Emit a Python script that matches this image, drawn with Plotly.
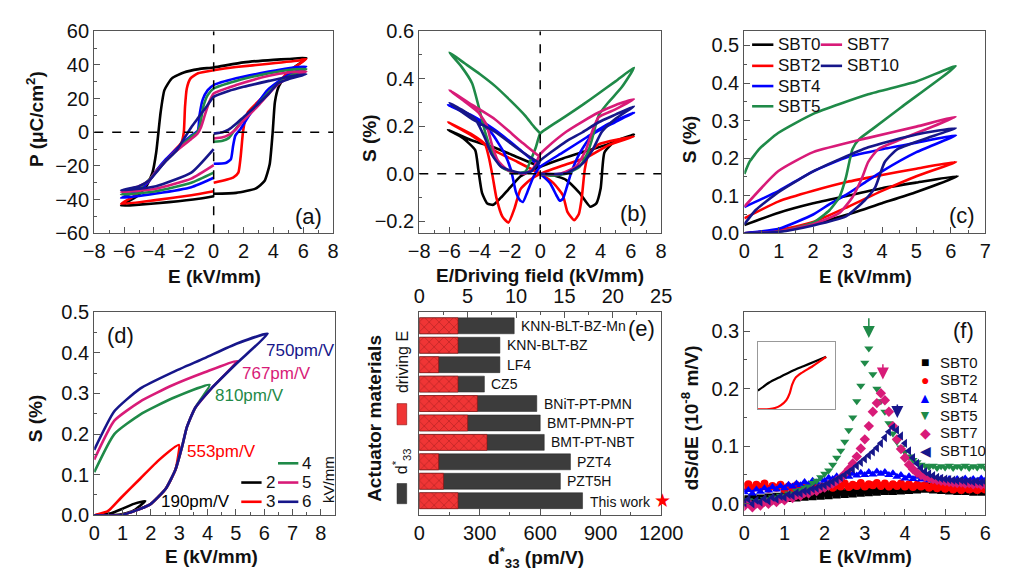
import plotly.graph_objects as go

FONT = "Liberation Sans, Arial, sans-serif"
C_SBT0 = '#000000'
C_SBT2 = '#ff0000'
C_SBT4 = '#0000ff'
C_SBT5 = '#1f8a48'
C_SBT7 = '#d81b78'
C_SBT10 = '#16168a'
FRAME = '#555555'

# ---------------- (a) P-E loops ----------------
a_SBT0_E = [0, 1.5, 2.8, 3.4, 3.75, 3.95, 4.1, 4.35, 5.0, 6.2, 5, 4, 2, 0, -1, -2, -2.8, -3.3, -3.55, -3.7, -3.85, -4.1, -4.5, -5.2, -6.2, -5, -3, -1, 0]
a_SBT0_P = [-36.5, -36, -33.5, -29, -19, 0, 18, 27, 36, 44, 43.5, 43, 41.5, 38.5, 37.5, 35.5, 32, 25, 12, 0, -12, -24, -32, -38.5, -43.5, -43, -41.5, -39.5, -38]
a_SBT2_E = [0, 1.3, 1.65, 1.8, 1.96, 2.1, 2.3, 3.25, 4.3, 5.0, 6.2, 5.8, 3.7, 1.5, 0, -1.05, -1.55, -1.8, -1.92, -2.0, -2.15, -2.8, -3.85, -4.5, -5.35, -6.2, -3.9, -1.5, 0]
a_SBT2_P = [-30, -27, -24, -15, 0, 7, 12, 20.5, 29, 36, 43.5, 42.8, 40.7, 38.7, 36.8, 35, 32, 26, 15, 0, -6, -12.5, -23, -30.5, -38, -42.5, -40.3, -37.4, -35]
a_SBT4_E = [0, 0.8, 1.15, 1.3, 1.45, 1.8, 2.3, 3, 3.6, 4.3, 5, 6.2, 5, 3.7, 1.5, 0, -0.4, -0.73, -0.95, -1.06, -1.5, -2.5, -3.2, -3.86, -4.3, -4.93, -6.2, -3.86, -1.5, 0]
a_SBT4_P = [-18.7, -18.3, -16, -8, -2, 2, 9, 18, 25, 30, 34, 39, 38, 36, 32, 28, 25, 19.5, 10, 1, -2, -10, -16, -23, -28.7, -34, -39, -36.4, -32.6, -27]
a_SBT5_E = [0, 0.6, 1.0, 1.3, 2, 3, 3.7, 4.3, 5, 6.2, 5, 3.7, 1.5, 0, -0.4, -0.7, -0.9, -1.1, -1.5, -2.5, -3.2, -3.86, -4.3, -5, -6.2, -3.86, -1.5, 0]
a_SBT5_P = [-5.6, -5, -3.5, 0, 8, 17, 24, 29, 33, 37.5, 37, 35, 30.5, 26, 22, 15, 5, 0, -2.5, -11, -17, -23.5, -28, -33, -37, -35, -30, -24]
a_SBT7_E = [0, 0.6, 1.0, 1.4, 2, 3, 3.7, 4.3, 5, 6.2, 5, 3.7, 1.5, 0, -0.3, -0.6, -0.85, -1.1, -1.5, -2.5, -3.2, -3.86, -4.3, -5, -6.2, -3.86, -1.5, 0]
a_SBT7_P = [-3.7, -3, -1.5, 1, 7, 16, 23, 28.5, 32, 36, 35.5, 33.5, 28, 23, 18, 10, 3, -1, -4, -11, -17, -23.5, -28.5, -32, -35.5, -33.5, -27.5, -19.5]
a_SBT10_E = [0, 0.6, 1.0, 1.5, 2, 3, 3.7, 4.3, 5, 6.2, 5, 3.7, 2, 1, 0, -0.5, -1.0, -1.5, -2, -2.5, -3.2, -3.86, -4.3, -5, -6.2, -3.86, -1.5, 0]
a_SBT10_P = [-0.8, 0, 1.5, 5, 9, 17, 23, 29, 31.5, 34.5, 33, 30.5, 27, 24.5, 21, 15, 9, 3, -4, -11, -17, -24, -28.5, -32, -34.5, -32, -24, -10]

# ---------------- (b) bipolar S-E ----------------
b_SBT0_E = [0, 0.8, 1.7, 2.6, 3.3, 3.7, 4.0, 4.25, 4.9, 6.2, 4.5, 3.1, 1.5, 0, -0.7, -1.3, -2.1, -2.6, -3.1, -3.5, -3.85, -4.1, -4.3, -5.1, -6.1, -4.5, -3, -1.5, 0]
b_SBT0_S = [0, -0.005, -0.025, -0.08, -0.138, -0.125, -0.06, 0.09, 0.135, 0.165, 0.125, 0.097, 0.065, 0.03, 0.01, -0.01, -0.065, -0.1, -0.13, -0.125, -0.08, 0.02, 0.1, 0.15, 0.185, 0.14, 0.11, 0.07, 0.03]
b_SBT2_E = [0, 0.86, 1.5, 1.8, 2.25, 2.55, 2.75, 2.95, 3.2, 3.86, 6.2, 4.5, 3.1, 1.5, 0, -0.64, -1.3, -1.7, -2.1, -2.5, -2.9, -3.15, -3.4, -3.65, -4.5, -6.1, -4.5, -3, -1.5, 0]
b_SBT2_S = [0, -0.038, -0.09, -0.16, -0.195, -0.17, -0.1, 0.02, 0.083, 0.124, 0.157, 0.12, 0.07, 0.035, 0, -0.024, -0.064, -0.145, -0.205, -0.18, -0.1, -0.01, 0.07, 0.124, 0.165, 0.217, 0.16, 0.097, 0.05, 0]
b_SBT4_E = [0, 0.64, 1.07, 1.29, 1.5, 1.72, 2.04, 2.58, 3.43, 4.94, 6.2, 4.5, 3.1, 1.5, 0, -0.43, -0.86, -1.14, -1.35, -1.6, -1.93, -2.4, -3.2, -4.3, -6.1, -4.5, -3, -1.5, 0]
b_SBT4_S = [0, -0.038, -0.09, -0.113, -0.105, -0.064, 0.003, 0.083, 0.164, 0.217, 0.258, 0.21, 0.155, 0.09, 0.03, -0.01, -0.078, -0.118, -0.11, -0.078, 0.016, 0.09, 0.17, 0.235, 0.29, 0.245, 0.185, 0.11, 0.03]
b_SBT5_E = [0, 0.8, 1.7, 2.6, 3.1, 3.4, 3.65, 3.9, 4.5, 5.4, 6.2, 5, 3.86, 2.8, 1.72, 0.9, 0.43, 0, -0.3, -0.64, -0.97, -1.7, -2.58, -3.22, -3.65, -4.08, -4.5, -5.2, -6.0, -5, -4, -3, -2, -1, -0.43, 0]
b_SBT5_S = [0, -0.008, 0.0, 0.03, 0.083, 0.14, 0.2, 0.25, 0.3, 0.365, 0.446, 0.39, 0.338, 0.29, 0.244, 0.21, 0.19, 0.17, 0.11, 0.056, 0.01, 0.003, 0.03, 0.097, 0.177, 0.285, 0.38, 0.45, 0.51, 0.465, 0.42, 0.37, 0.31, 0.245, 0.2, 0.17]
b_SBT7_E = [0, 1.29, 2.36, 3.0, 3.43, 3.86, 4.94, 6.2, 5, 3.86, 2.8, 1.72, 0.43, 0, -0.5, -1.07, -2.15, -2.8, -3.2, -3.54, -4.08, -5.15, -6.0, -4.5, -3, -1.3, 0]
b_SBT7_S = [0, 0, 0.03, 0.097, 0.177, 0.238, 0.27, 0.314, 0.29, 0.258, 0.22, 0.177, 0.11, 0.083, 0.02, 0, 0.016, 0.056, 0.124, 0.204, 0.258, 0.312, 0.352, 0.29, 0.23, 0.137, 0.07]
b_SBT10_E = [0, 1.72, 2.8, 3.43, 4.08, 4.94, 6.2, 5, 3.86, 2.8, 1.72, 0.8, 0, -0.6, -1.3, -2.58, -3.22, -3.65, -4.3, -5.2, -6.0, -4.5, -3, -1.3, 0]
b_SBT10_S = [0, 0.003, 0.043, 0.097, 0.177, 0.23, 0.284, 0.25, 0.217, 0.175, 0.137, 0.095, 0.056, 0.01, 0.003, 0.03, 0.083, 0.15, 0.23, 0.27, 0.298, 0.23, 0.177, 0.097, 0.043]

# ---------------- (c) unipolar S-E ----------------
c_SBT0_E = [0, 1, 2, 3, 4, 5, 6.2, 5, 4, 3, 2, 1, 0]
c_SBT0_S = [0, 0.008, 0.025, 0.05, 0.08, 0.11, 0.152, 0.135, 0.12, 0.1, 0.08, 0.055, 0.022]
c_SBT2_E = [0, 1, 2, 3, 4, 5, 6.15, 5, 4, 3, 2, 1, 0]
c_SBT2_S = [0, 0.008, 0.03, 0.07, 0.113, 0.152, 0.19, 0.172, 0.155, 0.137, 0.113, 0.085, 0.04]
c_SBT4_E = [0, 1, 2, 2.5, 3, 3.5, 4, 5, 6.15, 5, 4, 3, 2, 1, 0]
c_SBT4_S = [0, 0.012, 0.05, 0.079, 0.105, 0.135, 0.165, 0.216, 0.261, 0.241, 0.224, 0.203, 0.165, 0.113, 0.07]
c_SBT5_E = [0, 1, 2, 2.48, 2.76, 2.95, 3.05, 3.14, 3.33, 3.7, 4.55, 6.14, 5.0, 3.6, 2.0, 0.98, 0.45, 0.15, 0]
c_SBT5_S = [0, 0.004, 0.028, 0.062, 0.096, 0.148, 0.19, 0.224, 0.25, 0.276, 0.335, 0.445, 0.404, 0.37, 0.318, 0.267, 0.226, 0.19, 0.158]
c_SBT7_E = [0, 1, 2, 2.76, 3.14, 3.42, 3.6, 3.89, 4.55, 6.14, 5.0, 3.6, 2.0, 0.98, 0]
c_SBT7_S = [0, 0.005, 0.024, 0.054, 0.096, 0.148, 0.19, 0.224, 0.25, 0.31, 0.284, 0.254, 0.216, 0.165, 0.071]
c_SBT10_E = [0, 1, 2, 2.95, 3.5, 3.8, 4.08, 4.45, 5.2, 6.14, 5.0, 3.6, 2.0, 0.98, 0.33, 0]
c_SBT10_S = [0, 0.004, 0.021, 0.045, 0.088, 0.122, 0.19, 0.224, 0.25, 0.28, 0.263, 0.229, 0.165, 0.109, 0.062, 0.024]

# ---------------- (d) S-E at different fields ----------------
d_2_E = [0, 0.6, 1.0, 1.4, 1.8, 1.4, 1.0, 0.6, 0]
d_2_S = [0, 0, 0.003, 0.012, 0.035, 0.028, 0.016, 0.005, 0]
d_3_E = [0, 0.93, 1.96, 2.53, 2.87, 2.99, 2.3, 1.62, 0.93, 0.48, 0]
d_3_S = [0, 0, 0.026, 0.066, 0.113, 0.173, 0.137, 0.09, 0.042, 0.01, 0]
d_4_E = [0, 0.93, 1.96, 2.53, 2.87, 3.1, 3.27, 3.56, 4.07, 2.76, 1.62, 0.71, 0]
d_4_S = [0, 0, 0.026, 0.066, 0.113, 0.169, 0.217, 0.264, 0.321, 0.288, 0.248, 0.2, 0.106]
d_5_E = [0, 0.93, 1.96, 2.53, 2.87, 3.1, 3.27, 3.56, 4.13, 5.04, 3.9, 2.76, 1.62, 0.71, 0]
d_5_S = [0, 0, 0.026, 0.066, 0.113, 0.169, 0.217, 0.264, 0.312, 0.38, 0.352, 0.32, 0.28, 0.233, 0.137]
d_6_E = [0, 0.93, 1.96, 2.53, 2.87, 3.1, 3.27, 3.56, 4.13, 5.04, 6.12, 5.04, 3.9, 2.76, 1.62, 0.71, 0]
d_6_S = [0, 0, 0.026, 0.066, 0.113, 0.169, 0.217, 0.264, 0.312, 0.375, 0.447, 0.423, 0.387, 0.352, 0.312, 0.256, 0.161]
d_labels = ['190pm/V', '553pm/V', '810pm/V', '767pm/V', '750pm/V']
d_label_E = [2.3, 3.21, 4.18, 5.15, 6.0]
d_label_S = [0.034, 0.157, 0.294, 0.348, 0.405]

# ---------------- (e) actuator materials ----------------
e_materials = ['KNN-BLT-BZ-Mn', 'KNN-BLT-BZ', 'LF4', 'CZ5', 'BNiT-PT-PMN', 'BMT-PMN-PT', 'BMT-PT-NBT', 'PZT4', 'PZT5H', 'This work']
e_d33 = [471, 400, 400, 323, 583, 600, 620, 750, 700, 810]
e_field = [4, 4, 2, 4, 6, 5, 7, 2, 2.5, 4]

# ---------------- (f) dS/dE ----------------
f_E = [0.0, 0.1, 0.2, 0.3, 0.4, 0.5, 0.6, 0.7, 0.8, 0.9, 1.0, 1.1, 1.2, 1.3, 1.4, 1.5, 1.6, 1.7, 1.8, 1.9,
       2.0, 2.1, 2.2, 2.3, 2.4, 2.5, 2.6, 2.7, 2.8, 2.9, 3.0, 3.1, 3.2, 3.3, 3.4, 3.5, 3.6, 3.7, 3.8, 3.9,
       4.0, 4.1, 4.2, 4.3, 4.4, 4.5, 4.6, 4.7, 4.8, 4.9, 5.0, 5.1, 5.2, 5.3, 5.4, 5.5, 5.6, 5.7, 5.8, 5.9, 6.0]
f_SBT0 = [0.008, 0.004, 0.010, 0.006, 0.009, 0.005, 0.011, 0.008, 0.012, 0.009, 0.013, 0.010, 0.014, 0.011, 0.016, 0.012, 0.016, 0.013, 0.018, 0.014,
          0.019, 0.015, 0.020, 0.016, 0.021, 0.017, 0.021, 0.018, 0.023, 0.019, 0.023, 0.020, 0.024, 0.021, 0.025, 0.022, 0.026, 0.022, 0.027, 0.023,
          0.028, 0.024, 0.029, 0.025, 0.030, 0.026, 0.030, 0.025, 0.029, 0.024, 0.028, 0.023, 0.027, 0.022, 0.027, 0.022, 0.026, 0.021, 0.026, 0.021, 0.025]
f_SBT2 = [0.030, 0.034, 0.027, 0.033, 0.029, 0.035, 0.026, 0.031, 0.028, 0.033, 0.025, 0.030, 0.027, 0.032, 0.026, 0.031, 0.028, 0.033, 0.027, 0.030,
          0.029, 0.034, 0.028, 0.032, 0.030, 0.035, 0.029, 0.033, 0.031, 0.036, 0.030, 0.034, 0.032, 0.036, 0.031, 0.035, 0.030, 0.034, 0.031, 0.035,
          0.030, 0.034, 0.029, 0.033, 0.030, 0.032, 0.028, 0.031, 0.027, 0.030, 0.026, 0.029, 0.025, 0.028, 0.024, 0.028, 0.025, 0.027, 0.024, 0.027, 0.025]
f_SBT4 = [0.020, 0.024, 0.018, 0.025, 0.021, 0.027, 0.023, 0.029, 0.025, 0.031, 0.027, 0.033, 0.030, 0.035, 0.032, 0.038, 0.034, 0.040, 0.037, 0.042,
          0.040, 0.045, 0.043, 0.048, 0.045, 0.050, 0.047, 0.052, 0.049, 0.054, 0.050, 0.055, 0.051, 0.056, 0.052, 0.055, 0.050, 0.053, 0.047, 0.050,
          0.044, 0.048, 0.043, 0.047, 0.042, 0.046, 0.041, 0.045, 0.040, 0.044, 0.040, 0.043, 0.039, 0.043, 0.040, 0.044, 0.039, 0.043, 0.040, 0.044, 0.041]
f_SBT5 = [0.000, 0.006, -0.003, 0.005, 0.002, 0.008, 0.004, 0.011, 0.008, 0.014, 0.012, 0.018, 0.016, 0.022, 0.024, 0.028, 0.030, 0.036, 0.040, 0.046,
          0.052, 0.058, 0.068, 0.080, 0.092, 0.108, 0.128, 0.150, 0.178, 0.205, 0.245, 0.270, 0.225, 0.200, 0.178, 0.160, 0.140, 0.122, 0.108, 0.098,
          0.090, 0.082, 0.076, 0.072, 0.068, 0.066, 0.064, 0.066, 0.062, 0.065, 0.063, 0.066, 0.062, 0.065, 0.063, 0.066, 0.062, 0.065, 0.063, 0.066, 0.062]
f_SBT7 = [-0.004, 0.002, -0.006, 0.001, -0.003, 0.004, 0.000, 0.006, 0.003, 0.009, 0.006, 0.012, 0.010, 0.015, 0.014, 0.019, 0.018, 0.023, 0.022, 0.027,
          0.028, 0.032, 0.035, 0.040, 0.045, 0.052, 0.060, 0.070, 0.082, 0.096, 0.112, 0.135, 0.160, 0.175, 0.192, 0.180, 0.160, 0.135, 0.112, 0.095,
          0.080, 0.068, 0.060, 0.054, 0.050, 0.047, 0.045, 0.043, 0.041, 0.040, 0.039, 0.038, 0.037, 0.036, 0.037, 0.035, 0.036, 0.034, 0.035, 0.033, 0.034]
f_SBT10 = [0.002, 0.008, 0.000, 0.006, 0.003, 0.009, 0.005, 0.011, 0.008, 0.013, 0.011, 0.016, 0.014, 0.019, 0.018, 0.022, 0.022, 0.026, 0.027, 0.030,
           0.032, 0.035, 0.038, 0.042, 0.046, 0.050, 0.055, 0.060, 0.066, 0.072, 0.078, 0.084, 0.090, 0.097, 0.105, 0.115, 0.125, 0.133, 0.128, 0.118,
           0.105, 0.092, 0.080, 0.070, 0.062, 0.056, 0.052, 0.049, 0.046, 0.044, 0.043, 0.042, 0.041, 0.040, 0.041, 0.039, 0.040, 0.038, 0.039, 0.037, 0.038]
f_arrow_E = [3.1, 3.45, 3.81]
f_arrow_head = [0.288, 0.216, 0.149]
f_arrow_tail = [0.325, 0.245, 0.175]
inset_up_E = [0, 1, 2, 3, 4, 5, 6]
inset_up_S = [0.16, 0.23, 0.28, 0.33, 0.37, 0.41, 0.45]
inset_lo_E = [0, 1, 1.5, 2, 2.5, 2.8, 3.0, 3.3, 3.8, 4.8, 6]
inset_lo_S = [0, 0.003, 0.012, 0.035, 0.08, 0.14, 0.21, 0.27, 0.31, 0.37, 0.45]

names = ['SBT0', 'SBT2', 'SBT4', 'SBT5', 'SBT7', 'SBT10']
colors = [C_SBT0, C_SBT2, C_SBT4, C_SBT5, C_SBT7, C_SBT10]
f_glyphs = ['■', '●', '▲', '▼', '◆', '◀']

fig = go.Figure()


def line_trace(x, y, color, xa, ya, width=2.6):
    return go.Scatter(x=x, y=y, mode='lines', xaxis=xa, yaxis=ya, showlegend=False,
                      line=dict(color=color, width=width, shape='spline', smoothing=0.5),
                      hoverinfo='skip')

a_data = [(a_SBT0_E, a_SBT0_P), (a_SBT2_E, a_SBT2_P), (a_SBT4_E, a_SBT4_P),
          (a_SBT5_E, a_SBT5_P), (a_SBT7_E, a_SBT7_P), (a_SBT10_E, a_SBT10_P)]
b_data = [(b_SBT0_E, b_SBT0_S), (b_SBT2_E, b_SBT2_S), (b_SBT4_E, b_SBT4_S),
          (b_SBT5_E, b_SBT5_S), (b_SBT7_E, b_SBT7_S), (b_SBT10_E, b_SBT10_S)]
c_data = [(c_SBT0_E, c_SBT0_S), (c_SBT2_E, c_SBT2_S), (c_SBT4_E, c_SBT4_S),
          (c_SBT5_E, c_SBT5_S), (c_SBT7_E, c_SBT7_S), (c_SBT10_E, c_SBT10_S)]
for (x, y), col in zip(a_data, colors):
    fig.add_trace(line_trace(x, y, col, 'x', 'y'))
for (x, y), col in zip(b_data, colors):
    fig.add_trace(line_trace(x, y, col, 'x2', 'y2'))
for (x, y), col in zip(c_data, colors):
    fig.add_trace(line_trace(x, y, col, 'x3', 'y3'))

d_data = [(d_2_E, d_2_S, C_SBT0), (d_3_E, d_3_S, C_SBT2), (d_4_E, d_4_S, C_SBT5),
          (d_5_E, d_5_S, C_SBT7), (d_6_E, d_6_S, C_SBT10)]
for x, y, col in d_data:
    fig.add_trace(line_trace(x, y, col, 'x4', 'y4'))

# (e) bars
fig.add_trace(go.Bar(y=e_materials, x=e_d33, orientation='h', xaxis='x5', yaxis='y5',
                     marker=dict(color='#3c3c3c', line=dict(color='#222', width=0.5)),
                     width=0.82, showlegend=False, hoverinfo='skip'))
fig.add_trace(go.Bar(y=e_materials, x=e_field, orientation='h', xaxis='x6', yaxis='y5',
                     marker=dict(color='#f03535', line=dict(color='#8a1010', width=0.6),
                                 pattern=dict(shape='x', fgcolor='#5a0a0a', size=7, solidity=0.15,
                                              fillmode='overlay')),
                     width=0.82, showlegend=False, hoverinfo='skip'))

# (f) scatter
f_series = [f_SBT0, f_SBT2, f_SBT4, f_SBT5, f_SBT7, f_SBT10]
f_symbols = ['square', 'circle', 'triangle-up', 'triangle-down', 'diamond', 'triangle-left']
for nm, ys, col, sym in zip(names, f_series, colors, f_symbols):
    fig.add_trace(go.Scatter(x=f_E, y=ys, mode='markers', name=nm, xaxis='x7', yaxis='y6',
                             marker=dict(symbol=sym, color=col, size=8, line=dict(width=0)),
                             hoverinfo='skip', showlegend=False))

# inset
fig.add_trace(line_trace(inset_up_E, inset_up_S, C_SBT0, 'x8', 'y7', width=2.2))
fig.add_trace(line_trace(inset_lo_E, inset_lo_S, C_SBT2, 'x8', 'y7', width=2.2))

TICKSIZE = 20


def axis(domain, rng, dtick, mdtick, anchor, fmt=None, **kw):
    d = dict(domain=domain, range=rng, dtick=dtick, tick0=0, anchor=anchor,
             showline=True, linecolor=FRAME, linewidth=1.2, mirror=True,
             ticks='inside', ticklen=6, tickwidth=1, tickcolor=FRAME,
             minor=dict(ticks='inside', ticklen=3, dtick=mdtick, tick0=0, tickcolor=FRAME, showgrid=False),
             showgrid=False, zeroline=False,
             tickfont=dict(size=TICKSIZE, family=FONT, color='#111'))
    if fmt:
        d['tickformat'] = fmt
    d.update(kw)
    return d

W, H = 1015.0, 584.0
def px(x0, x1):
    return [x0 / W, x1 / W]
def py(top, bottom):
    return [1 - bottom / H, 1 - top / H]

row1 = py(21, 231)
row2 = py(313, 524)

layout = dict(
    width=1015, height=584, margin=dict(l=0, r=0, t=0, b=0),
    paper_bgcolor='white', plot_bgcolor='white',
    font=dict(family=FONT, size=16, color='#111'),
    xaxis=axis(px(86, 333), [-8, 8], 2, 1, 'y'),
    yaxis=axis(row1, [-60, 60], 20, 10, 'x'),
    xaxis2=axis(px(422, 672), [-8, 8], 2, 1, 'y2'),
    yaxis2=axis(row1, [-0.25, 0.6], 0.2, 0.1, 'x2', '.1f'),
    xaxis3=axis(px(758, 1007), [0, 7], 1, 0.5, 'y3'),
    yaxis3=axis(row1, [0, 0.538], 0.1, 0.05, 'x3', '.1f'),
    xaxis4=axis(px(86, 335), [0, 8.5], 1, 0.5, 'y4'),
    yaxis4=axis(row2, [0, 0.5], 0.1, 0.05, 'x4', '.1f'),
    xaxis5=axis(px(422, 672), [0, 1200], 300, 150, 'y5', side='bottom', mirror=False),
    xaxis6=axis(px(422, 672), [0, 25], 5, 2.5, 'y5', side='top', overlaying='x5', mirror=False),
    yaxis5=dict(domain=row2, anchor='x5', type='category', range=[9.75, -0.7],
                showline=True, linecolor=FRAME, linewidth=1.2, mirror=True,
                ticks='', showticklabels=False, showgrid=False, zeroline=False),
    xaxis7=axis(px(758, 1007), [0, 6], 1, 0.5, 'y6'),
    yaxis6=axis(row2, [-0.02, 0.333], 0.1, 0.05, 'x7', '.1f'),
    xaxis8=dict(domain=px(772, 852), anchor='y7', range=[0, 6.8], showline=True, linecolor='#999',
                linewidth=1, mirror=True, ticks='', showticklabels=False, showgrid=False, zeroline=False),
    yaxis7=dict(domain=py(344, 414), anchor='x8', range=[0, 0.577], showline=True, linecolor='#999',
                linewidth=1, mirror=True, ticks='', showticklabels=False, showgrid=False, zeroline=False),
    showlegend=False,
)
fig.update_layout(**layout)

shapes = []
# dashed zero lines (a), (b)
shapes += [
    dict(type='line', xref='x', yref='y', x0=-8, x1=8, y0=0, y1=0, line=dict(color='black', width=1.5, dash='dash')),
    dict(type='line', xref='x', yref='y', x0=0, x1=0, y0=-60, y1=60, line=dict(color='black', width=1.5, dash='dash')),
    dict(type='line', xref='x2', yref='y2', x0=-8, x1=8, y0=0, y1=0, line=dict(color='black', width=1.5, dash='dash')),
    dict(type='line', xref='x2', yref='y2', x0=0, x1=0, y0=-0.25, y1=0.6, line=dict(color='black', width=1.5, dash='dash')),
]
annotations = []


def ann(text, x, y, size=16, angle=0, bold=False, xanchor='center', color='#111', **kw):
    d = dict(text=text, x=x, y=y, xref='paper', yref='paper', showarrow=False,
             xanchor=xanchor, yanchor='middle', textangle=angle,
             font=dict(size=size, family=FONT, color=color, weight='bold' if bold else 'normal'))
    d.update(kw)
    annotations.append(d)

# axis titles
ann('E (kV/mm)', 210 / W, 1 - 276 / H, 19, bold=True)
ann('P (μC/cm<sup>2</sup>)', 25 / W, 1 - 112 / H, 19, -90, True)
ann('E/Driving field (kV/mm)', 547 / W, 1 - 275 / H, 19, bold=True)
ann('S (%)', 370 / W, 1 - 132 / H, 19, -90, True)
ann('E (kV/mm)', 883 / W, 1 - 276 / H, 19, bold=True)
ann('S (%)', 702 / W, 1 - 133 / H, 19, -90, True)
ann('E (kV/mm)', 207 / W, 1 - 567 / H, 19, bold=True)
ann('S (%)', 25 / W, 1 - 423 / H, 19, -90, True)
ann('d<sup>*</sup><sub>33</sub> (pm/V)', 543 / W, 1 - 568 / H, 19, bold=True)
ann('Actuator materials', 375 / W, 1 - 423 / H, 19, -90, True)
ann('E (kV/mm)', 883 / W, 1 - 567 / H, 19, bold=True)
ann('dS/dE (10<sup>-8</sup> m/V)', 702 / W, 1 - 423 / H, 19, -90, True)

# panel labels
for lab, x, y in [('(a)', 308, 214), ('(b)', 643, 210), ('(c)', 983, 212),
                  ('(d)', 113, 337), ('(e)', 652, 330), ('(f)', 985, 332)]:
    ann(lab, x / W, 1 - y / H, 22)

# (c) legend
c_leg_pos = [(766, 35), (766, 57), (766, 78), (766, 99), (837, 35), (837, 57)]
for nm, col, (x0, yy) in zip(names, colors, c_leg_pos):
    shapes.append(dict(type='line', xref='paper', yref='paper', x0=x0 / W, x1=(x0 + 22) / W,
                       y0=1 - yy / H, y1=1 - yy / H, line=dict(color=col, width=2.6)))
    ann(nm, (x0 + 25) / W, 1 - yy / H, 17, xanchor='left')

# (d) legend
d_leg = [('2', C_SBT0, 238, 490), ('3', C_SBT2, 238, 510), ('4', C_SBT5, 276, 470),
         ('5', C_SBT7, 276, 490), ('6', C_SBT10, 276, 510)]
for t, col, x0, yy in d_leg:
    shapes.append(dict(type='line', xref='paper', yref='paper', x0=x0 / W, x1=(x0 + 21) / W,
                       y0=1 - yy / H, y1=1 - yy / H, line=dict(color=col, width=2.6)))
    ann(t, (x0 + 23) / W, 1 - yy / H, 17, xanchor='left')
ann('kV/mm', 328 / W, 1 - 487 / H, 15, -90)

# (d) value labels
d_label_colors = [C_SBT0, C_SBT2, C_SBT5, C_SBT7, C_SBT10]
for t, x, y, col in zip(d_labels, d_label_E, d_label_S, d_label_colors):
    annotations.append(dict(text=t, x=x, y=y, xref='x4', yref='y4', showarrow=False,
                            xanchor='left', yanchor='middle',
                            font=dict(size=17, family=FONT, color=col)))

# (e) labels
for nm, v in zip(e_materials, e_d33):
    txt = nm if nm != 'This work' else 'This work <span style="color:#ff0000;font-size:19px">★</span>'
    annotations.append(dict(text=txt, x=v, y=nm, xref='x5', yref='y5', showarrow=False,
                            xanchor='left', yanchor='middle', xshift=5,
                            font=dict(size=14, family=FONT, color='#111')))
# (e) legend swatches
shapes.append(dict(type='rect', xref='paper', yref='paper', x0=399 / W, x1=409 / W,
                   y0=1 - 430 / H, y1=1 - 408 / H, fillcolor='#f03535', line=dict(color='#8a1010', width=0.6)))
shapes.append(dict(type='rect', xref='paper', yref='paper', x0=399 / W, x1=409 / W,
                   y0=1 - 512 / H, y1=1 - 491 / H, fillcolor='#3c3c3c', line=dict(color='#222', width=0.5)))
ann('driving E', 404 / W, 1 - 365 / H, 16, -90)
ann('d<sup>*</sup><sub>33</sub>', 404 / W, 1 - 468 / H, 16, -90)

# (f) legend (glyph keys + names)
f_leg_rows = [365, 383, 402, 420, 438, 457]
for nm, col, g, yy in zip(names, colors, f_glyphs, f_leg_rows):
    ann(g, 945 / W, 1 - yy / H, 14, color=col)
    ann(nm, 958 / W, 1 - yy / H, 15, xanchor='left')

# (f) arrows
for x, yh, yt, col in zip(f_arrow_E, f_arrow_head, f_arrow_tail, [C_SBT5, C_SBT7, C_SBT10]):
    annotations.append(dict(text='', x=x, y=yh, ax=x, ay=yt, xref='x7', yref='y6',
                            axref='x7', ayref='y6', showarrow=True, arrowhead=2,
                            arrowsize=1.6, arrowwidth=1.5, arrowcolor=col))

fig.update_layout(shapes=shapes, annotations=annotations)
fig.write_html('out.html')
